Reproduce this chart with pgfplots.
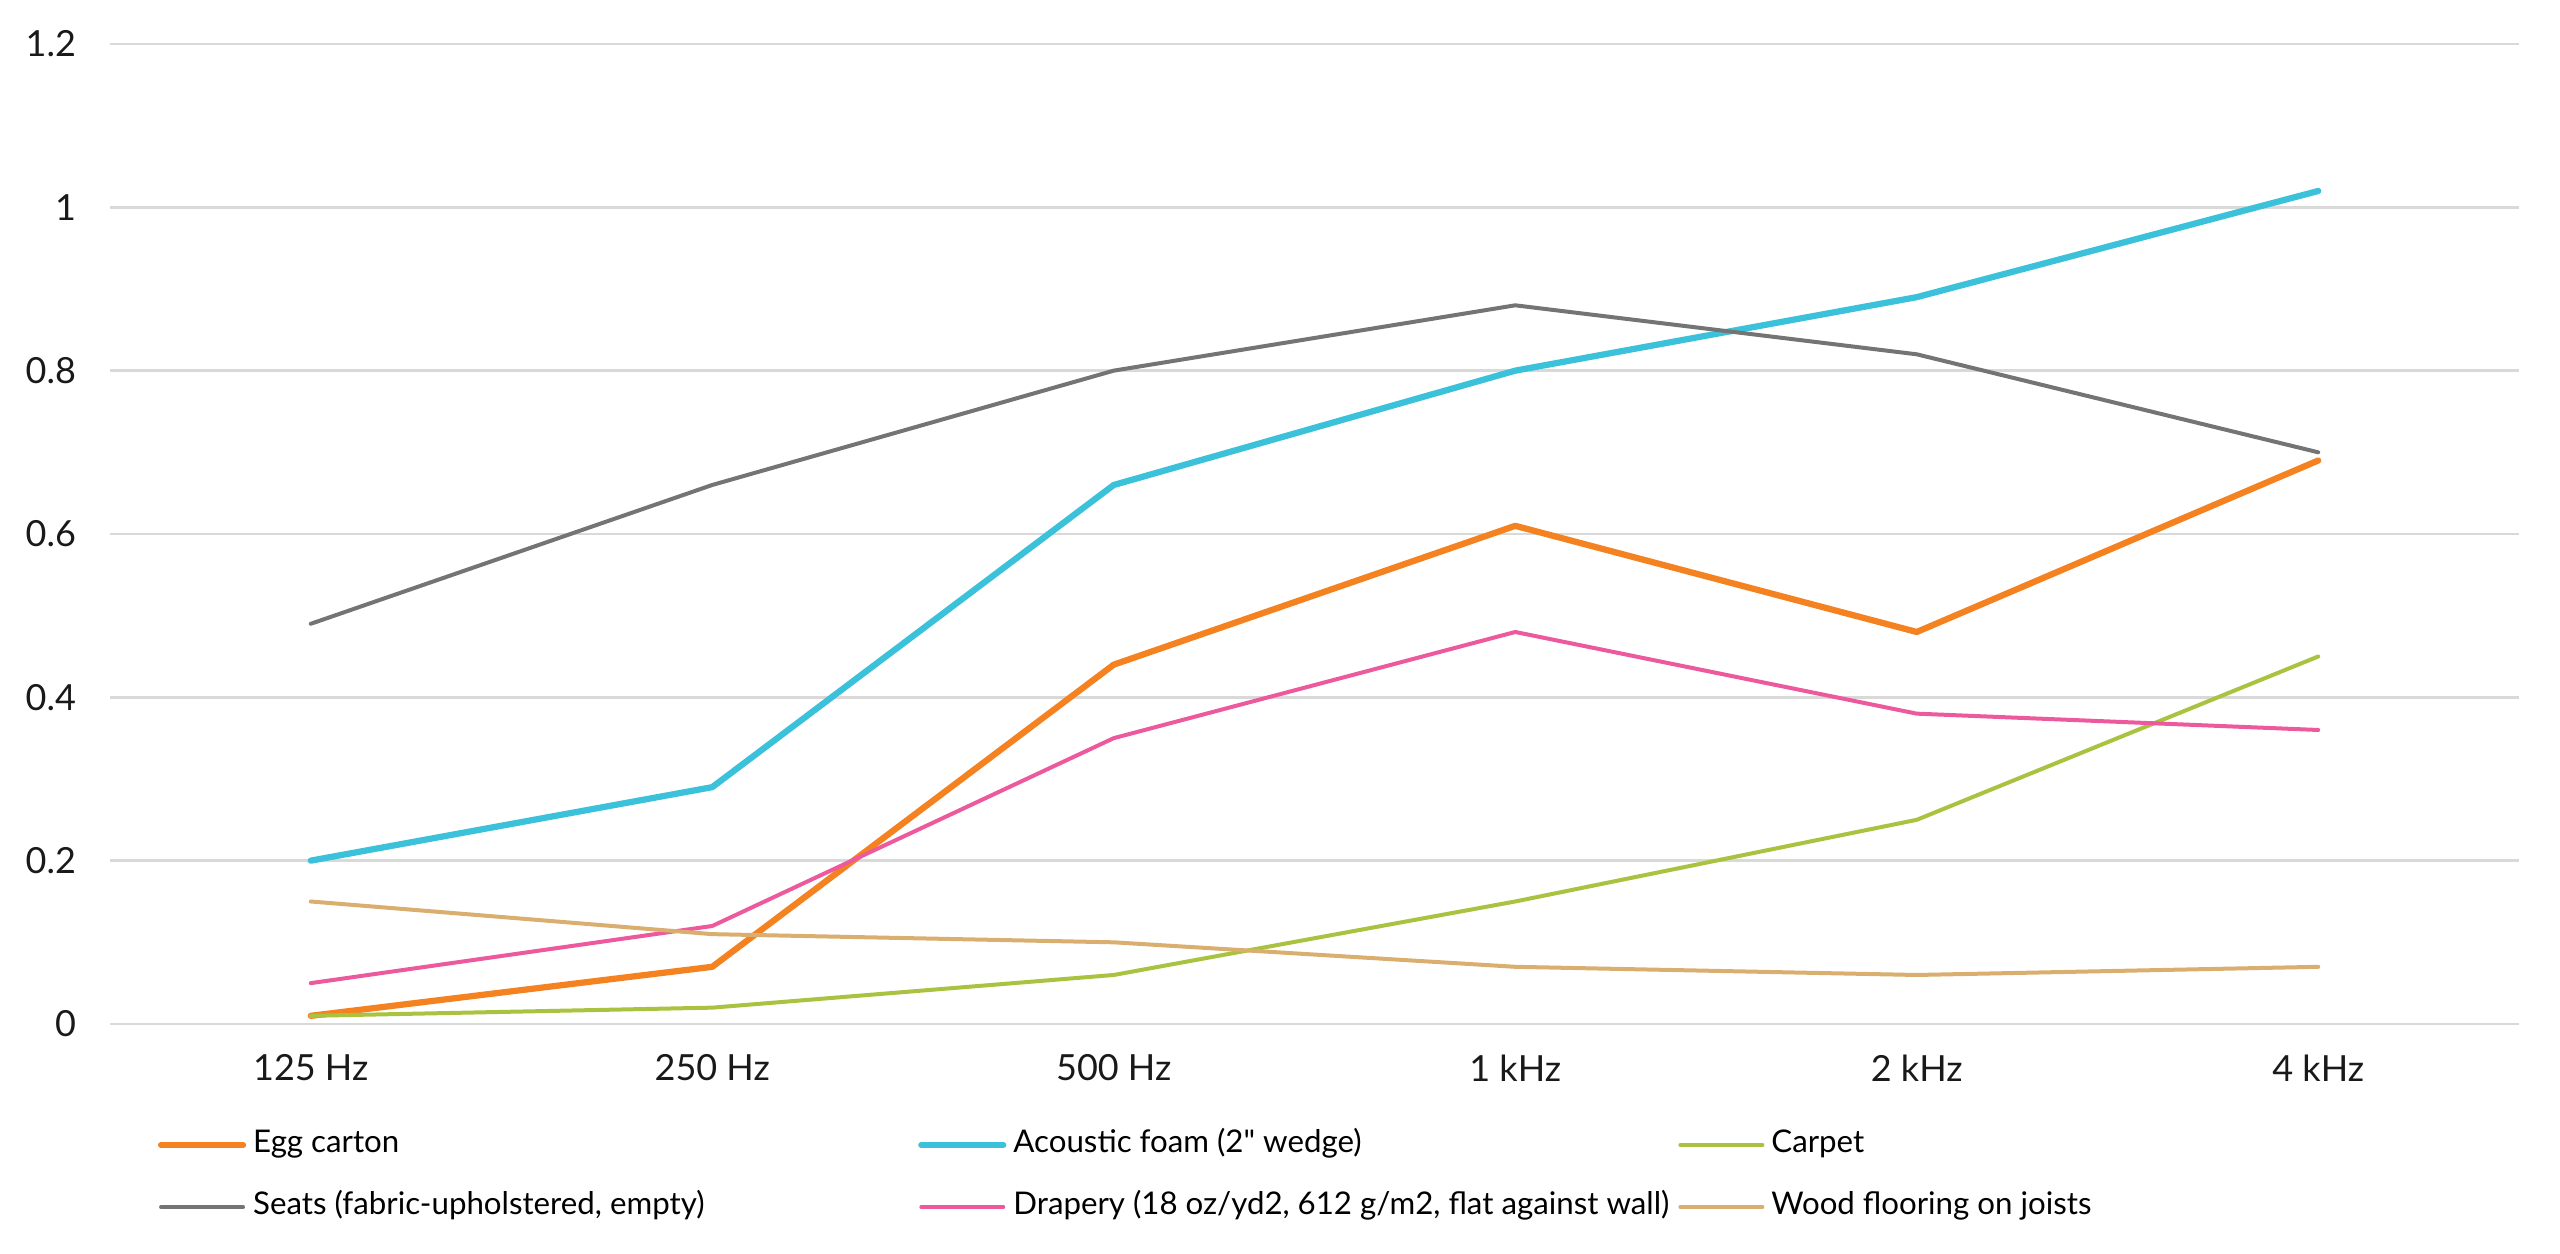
\documentclass[border=0pt]{standalone}
\usepackage{pgfplots}
\pgfplotsset{compat=1.18}
\usepackage{fontspec}
\setmainfont{Lato}
\newfontfamily\qfont{Lato}

\definecolor{cegg}{HTML}{F58220}
\definecolor{cfoam}{HTML}{3BC1D9}
\definecolor{ccarpet}{HTML}{A9C23F}
\definecolor{cseats}{HTML}{747474}
\definecolor{cdrape}{HTML}{EC5A9D}
\definecolor{cwood}{HTML}{D9AE6E}
\definecolor{cgrid}{HTML}{D9D9D9}

\newcommand{\lentry}[1]{\makebox[133pt][l]{#1}}

\begin{document}
\begin{tikzpicture}
\begin{axis}[
  scale only axis,
  width=481.8pt, height=196pt,
  xmin=-0.5, xmax=5.5,
  ymin=0, ymax=1.2,
  xtick=data,
  xticklabels={125 Hz, 250 Hz, 500 Hz, 1 kHz, 2 kHz, 4 kHz},
  ytick={0,0.2,...,1.2},
  xtick pos=bottom, ytick pos=left,
  axis line style={draw=none},
  tick style={draw=none},
  ymajorgrids,
  grid style={cgrid, line width=0.55pt},
  /pgf/number format/assume math mode=true,
  tick label style={font=\fontsize{7.2}{8}\selectfont, text=black!90},
  xticklabel style={anchor=center, yshift=-8.8pt},
  yticklabel style={anchor=east, inner sep=0pt, xshift=-6.6pt},
  legend columns=3,
  legend style={
    at={(0.0199,-0.1082)}, anchor=north west,
    draw=none, inner sep=0pt, outer sep=0pt,
    font=\fontsize{6.25}{7}\selectfont,
    nodes={inner xsep=0pt, inner ysep=0pt, text height=4.5pt, text depth=1.5pt},
    row sep=6.4pt,
    /tikz/every odd column/.append style={column sep=1.4pt},
    /tikz/every even column/.append style={column sep=0pt},
  },
  legend image code/.code={\draw[#1] (0pt,0pt) -- (16.4pt,0pt);},
  every axis plot/.append style={line width=0.8pt, line join=round, line cap=round},
]
\addplot[cegg, line width=1.25pt] coordinates {(0,0.01) (1,0.07) (2,0.44) (3,0.61) (4,0.48) (5,0.69)};
\addlegendentry{\lentry{Egg carton}}
\addplot[cfoam, line width=1.25pt] coordinates {(0,0.20) (1,0.29) (2,0.66) (3,0.80) (4,0.89) (5,1.02)};
\addlegendentry{\lentry{Acoustic foam (2{\qfont\symbol{34}} wedge)}}
\addplot[ccarpet] coordinates {(0,0.01) (1,0.02) (2,0.06) (3,0.15) (4,0.25) (5,0.45)};
\addlegendentry{\lentry{Carpet}}
\addplot[cseats] coordinates {(0,0.49) (1,0.66) (2,0.80) (3,0.88) (4,0.82) (5,0.70)};
\addlegendentry{\lentry{Seats (fabric-upholstered, empty)}}
\addplot[cdrape] coordinates {(0,0.05) (1,0.12) (2,0.35) (3,0.48) (4,0.38) (5,0.36)};
\addlegendentry{\lentry{Drapery (18 oz/yd2, 612 g/m2, flat against wall)}}
\addplot[cwood] coordinates {(0,0.15) (1,0.11) (2,0.10) (3,0.07) (4,0.06) (5,0.07)};
\addlegendentry{\lentry{Wood flooring on joists}}
\end{axis}
\useasboundingbox (-22pt,-46pt) rectangle (490pt,204.8pt);
\end{tikzpicture}
\end{document}
